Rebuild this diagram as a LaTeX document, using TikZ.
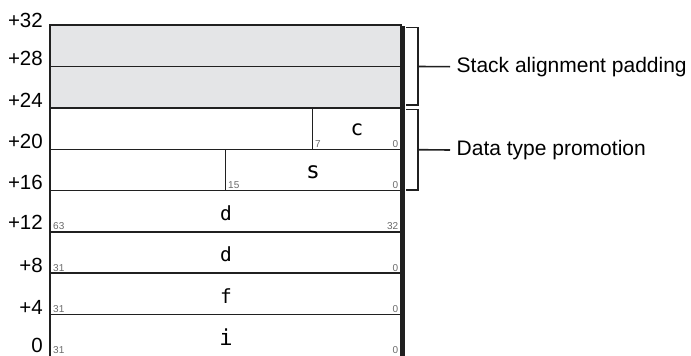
\documentclass[tikz,border=0pt]{standalone}
\usepackage{fontspec}
\setmainfont{Liberation Sans}
\newfontfamily\monof{DejaVu Sans Mono}
\definecolor{padgray}{HTML}{E4E5E7}
\definecolor{linec}{HTML}{202020}
\definecolor{bitc}{HTML}{6A6A6A}
\begin{document}
\begin{tikzpicture}[x=1pt,y=-1pt,
  rowline/.style={draw=linec,line width=1.5pt},
  offs/.style={anchor=east,inner sep=0pt,font=\fontsize{20.5}{24}\selectfont},
  bitl/.style={anchor=base west,inner sep=0pt,text=bitc,font=\fontsize{10}{12}\selectfont},
  bitr/.style={anchor=base east,inner sep=0pt,text=bitc,font=\fontsize{10}{12}\selectfont},
  fld/.style={anchor=base,inner sep=0pt,font=\monof},
  brk/.style={draw=linec,line width=1.6pt},
  note/.style={anchor=west,inner sep=0pt,font=\fontsize{21}{25}\selectfont}]
\useasboundingbox (0,0) rectangle (691,356);
% padding fill
\fill[padgray] (50,25) rectangle (401,108);
% outer box
\draw[draw=linec,line width=1.1pt] (50,356) -- (50,25) -- (401,25) -- (401,356);
% right heavy edge
\draw[draw=linec,line width=3pt] (403.3,26) -- (403.3,356);
% row lines
\foreach \yy in {66.5,108,149.3,190.5,231.8,273.2,314.5}
  \draw[rowline] (50,\yy) -- (401,\yy);
% dividers
\draw[draw=linec,line width=1.1pt] (312.7,108) -- (312.7,149.3);
\draw[draw=linec,line width=1.1pt] (225.7,149.3) -- (225.7,190.5);
% offsets
\node[offs] (o32) at (43,20) {+32};
\node[offs] (o28) at (43,58.5) {+28};
\node[offs] (o24) at (43,100) {+24};
\node[offs] (o20) at (43,141.7) {+20};
\node[offs] (o16) at (43,182) {+16};
\node[offs] (o12) at (43,222.5) {+12};
\node[offs] (o8) at (43,265) {+8};
\node[offs] (o4) at (43,307) {+4};
\node[offs] (o0) at (43,345.5) {0};
% bit numbers
\node[bitl] (b7) at (315,147) {7};
\node[bitr] (b0c) at (398.5,147) {0};
\node[bitl] (b15) at (228,188.3) {15};
\node[bitr] (b0s) at (398.5,188.3) {0};
\node[bitl] (b63) at (53,229.5) {63};
\node[bitr] (b32) at (398.5,229.5) {32};
\node[bitl] (b31d) at (53,271) {31};
\node[bitr] (b0d) at (398.5,271) {0};
\node[bitl] (b31f) at (53,312.3) {31};
\node[bitr] (b0f) at (398.5,312.3) {0};
\node[bitl] (b31i) at (53,353) {31};
\node[bitr] (b0i) at (398.5,353) {0};
% field names
\node[fld,font=\monof\fontsize{21}{25}\selectfont] (fc) at (357,135) {c};
\node[fld,font=\monof\fontsize{23}{27}\selectfont] (fs) at (313,178.3) {s};
\node[fld,font=\monof\fontsize{19.5}{23}\selectfont] (fd1) at (226,220) {d};
\node[fld,font=\monof\fontsize{19.5}{23}\selectfont] (fd2) at (226,261.7) {d};
\node[fld,font=\monof\fontsize{19.5}{23}\selectfont] (ff) at (226,303) {f};
\node[fld,font=\monof\fontsize{22}{26}\selectfont] (fi) at (226,345) {i};
% brackets
\draw[brk] (406,27.3) -- (417.8,27.3) -- (417.8,105) -- (406,105);
\draw[brk] (406,109.3) -- (417.8,109.3) -- (417.8,190) -- (406,190);
\coordinate (m1) at (417.8,66.5);
\coordinate (m2) at (417.8,149.7);
\node[note] (n1) at (456.5,66.7) {Stack alignment padding};
\node[note] (n2) at (456.5,150) {Data type promotion};
\draw[brk] (m1) -- ([xshift=-6.5pt]n1.west);
\draw[brk] (m2) -- ([xshift=-6.5pt]n2.west);
\end{tikzpicture}
\end{document}
